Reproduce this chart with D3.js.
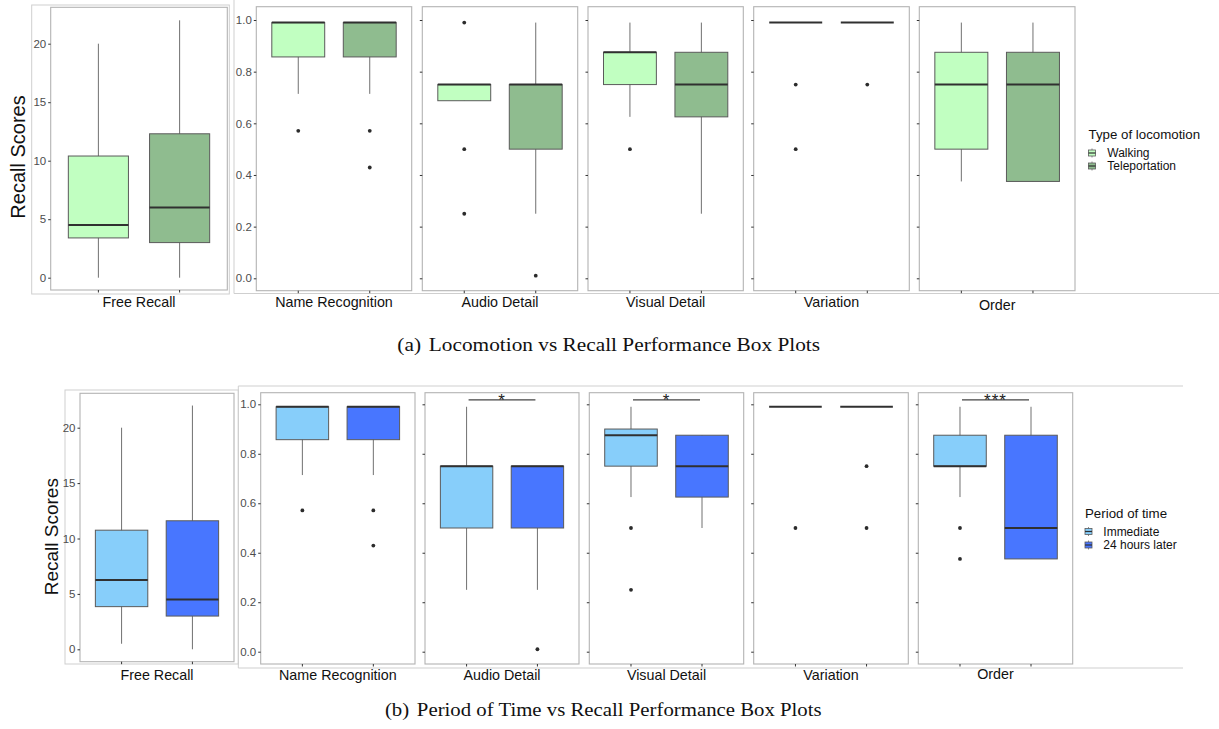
<html>
<head>
	<title>recall box plots</title>
	<style>
		body {
			margin:0;
			padding:0;
			background:#fff;
			font-family:"Liberation Sans", Arial, sans-serif;
		}
		.tick line { stroke:#333; }
		.tick text { fill:#4d4d4d; font-size:11.5px; font-family:"Liberation Sans", Arial, sans-serif; }
	</style>
</head>
<body>

<svg width="1219" height="729"></svg>

<script src="https://d3js.org/d3.v7.min.js"></script>
<script>

	var measures = ["Free Recall", "Name Recognition", "Audio Detail", "Visual Detail", "Variation", "Order"];
	var locomotionTypes = ["Walking", "Teleportation"];
	var timePeriods = ["Immediate", "24 hours later"];
	var freeRecallTicks = [0, 5, 10, 15, 20];
	var proportionTicks = [0, 0.2, 0.4, 0.6, 0.8, 1.0];

	// each box: [lower whisker, Q1, median, Q3, upper whisker]
	var walkingBoxes = [[0, 3.4, 4.5, 10.4, 20], [0.714, 0.857, 0.99, 0.99, 0.99], [0.6875, 0.6875, 0.75, 0.75, 0.75], [0.625, 0.75, 0.875, 0.875, 0.99], [0.99, 0.99, 0.99, 0.99, 0.99], [0.375, 0.5, 0.75, 0.875, 0.99]];
	var walkingOutliers = [[], [0.571], [0.99, 0.5, 0.25], [0.5], [0.75, 0.5], []];
	var teleportBoxes = [[0, 3, 6, 12.3, 22], [0.714, 0.857, 0.99, 0.99, 0.99], [0.25, 0.5, 0.75, 0.75, 0.99], [0.25, 0.625, 0.75, 0.875, 0.99], [0.99, 0.99, 0.99, 0.99, 0.99], [0.375, 0.375, 0.75, 0.875, 0.99]];
	var teleportOutliers = [[], [0.571, 0.429], [0.01], [], [0.75], []];

	var immediateBoxes = [[0.5, 3.85, 6.25, 10.75, 20], [0.714, 0.857, 0.99, 0.99, 0.99], [0.25, 0.5, 0.75, 0.75, 0.99], [0.625, 0.75, 0.875, 0.9, 0.99], [0.99, 0.99, 0.99, 0.99, 0.99], [0.625, 0.75, 0.75, 0.875, 0.99]];
	var immediateOutliers = [[], [0.571], [], [0.5, 0.25], [0.5], [0.5, 0.375]];
	var laterBoxes = [[0, 3, 4.5, 11.6, 22], [0.714, 0.857, 0.99, 0.99, 0.99], [0.25, 0.5, 0.75, 0.75, 0.75], [0.5, 0.625, 0.75, 0.875, 0.875], [0.99, 0.99, 0.99, 0.99, 0.99], [0.375, 0.375, 0.5, 0.875, 0.99]];
	var laterOutliers = [[], [0.571, 0.429], [0.01], [], [0.75, 0.5], []];

	var locomotionSignificance = ["", "", "", "", "", ""];
	var timeSignificance = ["", "", "*", "*", "", "***"];

	var locomotionColors = ["#c1ffc1", "#8fbc8f"];
	var timeColors = ["#87cefa", "#4876ff"];

	var svg = d3.select("svg");
	svg.append("rect").attr("width", 1219).attr("height", 729).attr("fill", "#fff");

	var frameColor = "#cfcfcf";

	// outer frames of the pasted plot images
	svg.append("rect").attr("x", 31.7).attr("y", 5).attr("width", 197.6).attr("height", 289)
		.attr("fill", "none").attr("stroke", frameColor);
	svg.append("path").attr("d", "M234,0V293.5H1219").attr("fill", "none").attr("stroke", frameColor);
	svg.append("rect").attr("x", 65).attr("y", 390).attr("width", 173.3).attr("height", 274)
		.attr("fill", "none").attr("stroke", frameColor);
	svg.append("path").attr("d", "M1183,386H238.3V668H1183").attr("fill", "none").attr("stroke", frameColor);

	var rowA = {
		groups: locomotionTypes, colors: locomotionColors,
		boxes: [walkingBoxes, teleportBoxes], outliers: [walkingOutliers, teleportOutliers],
		sig: locomotionSignificance,
		panels: [[50.7, 227.3], [256.3, 411.7], [422.3, 577.7], [588, 743.3], [753.7, 909.3], [919.3, 1075]],
		freeY: [7.3, 290], propY: [6.7, 290.7],
		freeRange: [277.7, 43.7], propRange: [278.3, 20],
		labelY: [307, 306.5, 306.5, 306.5, 306.5, 310],
		title: { x: 18, y: 157, size: 20 }
	};
	var rowB = {
		groups: timePeriods, colors: timeColors,
		boxes: [immediateBoxes, laterBoxes], outliers: [immediateOutliers, laterOutliers],
		sig: timeSignificance,
		panels: [[80, 234], [260.7, 415], [425, 579], [589.3, 743.7], [753.7, 908.3], [918.3, 1072.7]],
		freeY: [393.3, 661.7], propY: [392.7, 664],
		freeRange: [649.3, 427.7], propRange: [651.7, 404.3],
		labelY: [680, 680, 680, 680, 680, 679],
		title: { x: 51.7, y: 536.7, size: 19 }
	};

	drawRow(rowA);
	drawRow(rowB);

	function drawRow(row) {
		var yFree = d3.scaleLinear().domain([0, 20]).range(row.freeRange);
		var yProp = d3.scaleLinear().domain([0, 1]).range(row.propRange);

		measures.forEach(function(m, i) {
			var x0 = row.panels[i][0], x1 = row.panels[i][1];
			var y = i == 0 ? yFree : yProp;
			var py = i == 0 ? row.freeY : row.propY;
			var g = svg.append("g");

			var x = d3.scaleBand().domain(row.groups).range([x0, x1])
				.paddingInner(0.26).paddingOuter(0.217);

			g.append("rect")
				.attr("x", x0).attr("y", py[0])
				.attr("width", x1 - x0).attr("height", py[1] - py[0])
				.attr("fill", "#fff").attr("stroke", "#b3b3b3").attr("stroke-width", 1.1);

			var showLabels = i < 2;
			g.append("g")
				.attr("transform", "translate(" + x0 + ",0)")
				.call(d3.axisLeft(y)
					.tickValues(i == 0 ? freeRecallTicks : proportionTicks)
					.tickSize(2.5).tickPadding(2)
					.tickFormat(showLabels ? (i == 0 ? d3.format("d") : d3.format(".1f")) : ""))
				.call(function(a) { a.select(".domain").remove(); });

			g.append("g")
				.attr("transform", "translate(0," + py[1] + ")")
				.call(d3.axisBottom(x).tickSize(2.5).tickFormat(""))
				.call(function(a) { a.select(".domain").remove(); });

			row.groups.forEach(function(grp, k) {
				var b = row.boxes[k][i];
				var cx = x(grp) + x.bandwidth() / 2;

				g.append("line")
					.attr("x1", cx).attr("x2", cx)
					.attr("y1", y(b[0])).attr("y2", y(b[4]))
					.attr("stroke", "#707070").attr("stroke-width", 1);

				if (b[3] > b[1]) {
					g.append("rect")
						.attr("x", x(grp)).attr("y", y(b[3]))
						.attr("width", x.bandwidth()).attr("height", y(b[1]) - y(b[3]))
						.attr("fill", row.colors[k])
						.attr("stroke", "#5a5a5a").attr("stroke-width", 1);
				}

				g.append("line")
					.attr("x1", x(grp)).attr("x2", x(grp) + x.bandwidth())
					.attr("y1", y(b[2])).attr("y2", y(b[2]))
					.attr("stroke", "#303030").attr("stroke-width", 2);

				g.selectAll(".out" + k)
					.data(row.outliers[k][i])
					.enter()
					.append("circle")
					.attr("cx", cx)
					.attr("cy", function(d) { return y(d); })
					.attr("r", 1.9)
					.attr("fill", "#2b2b2b");
			});

			if (row.sig[i] != "") {
				var c1 = x(row.groups[0]) + x.bandwidth() / 2;
				var c2 = x(row.groups[1]) + x.bandwidth() / 2;
				var sy = y(1.018);
				g.append("line")
					.attr("x1", c1 + 2).attr("x2", c2 - 2)
					.attr("y1", sy).attr("y2", sy)
					.attr("stroke", "#444").attr("stroke-width", 1.2);
				g.append("text")
					.attr("x", (c1 + c2) / 2).attr("y", sy + 6.5)
					.attr("text-anchor", "middle")
					.style("font-size", "17px")
					.style("letter-spacing", "1px")
					.style("fill", "#222")
					.text(row.sig[i]);
			}

			g.append("text")
				.attr("x", (x0 + x1) / 2).attr("y", row.labelY[i])
				.attr("text-anchor", "middle")
				.style("font-size", "14.3px")
				.style("fill", "#111")
				.text(m);
		});

		svg.append("text")
			.attr("transform", "translate(" + row.title.x + "," + row.title.y + ") rotate(-90)")
			.attr("text-anchor", "middle")
			.attr("dominant-baseline", "central")
			.style("font-size", row.title.size + "px")
			.style("fill", "#111")
			.text("Recall Scores");
	}

	function drawLegend(title, groups, colors, lx, ty, keyY, textX) {
		var g = svg.append("g");
		g.append("text").attr("x", lx).attr("y", ty)
			.style("font-size", "13.3px").style("fill", "#111").text(title);
		groups.forEach(function(grp, k) {
			var cy = keyY[k];
			g.append("line").attr("x1", lx + 3.5).attr("x2", lx + 3.5)
				.attr("y1", cy - 4.5).attr("y2", cy + 4.5)
				.attr("stroke", "#707070").attr("stroke-width", 0.8);
			g.append("rect").attr("x", lx).attr("y", cy - 3)
				.attr("width", 7).attr("height", 6)
				.attr("fill", colors[k]).attr("stroke", "#5a5a5a").attr("stroke-width", 0.8);
			g.append("line").attr("x1", lx).attr("x2", lx + 7)
				.attr("y1", cy).attr("y2", cy)
				.attr("stroke", "#303030").attr("stroke-width", 1.2);
			g.append("text").attr("x", textX).attr("y", cy + 4)
				.style("font-size", "12px").style("fill", "#111").text(grp);
		});
	}

	drawLegend("Type of locomotion", locomotionTypes, locomotionColors, 1088.5, 139, [153, 166], 1107.3);
	drawLegend("Period of time", timePeriods, timeColors, 1085, 518, [531.5, 545], 1103.3);

	// figure captions
	function caption(label, rest, cx, by, width) {
		var t = svg.append("text")
			.attr("x", cx - width / 2).attr("y", by)
			.attr("textLength", width).attr("lengthAdjust", "spacingAndGlyphs")
			.style("font-family", "'Liberation Serif', 'Times New Roman', serif")
			.style("font-size", "19px")
			.style("fill", "#111");
		t.append("tspan").text(label);
		t.append("tspan").attr("dx", 7).text(rest);
	}
	caption("(a)", "Locomotion vs Recall Performance Box Plots", 608.7, 350.5, 422.7);
	caption("(b)", "Period of Time vs Recall Performance Box Plots", 603.3, 715.5, 436.7);

</script>

</body>
</html>
